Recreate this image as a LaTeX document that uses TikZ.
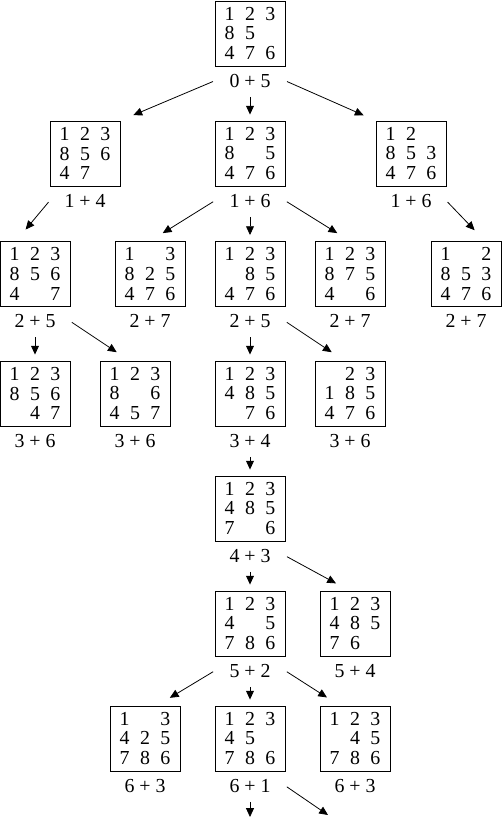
\documentclass[tikz,border=0pt]{standalone}
\usepackage{fontspec}
\setmainfont{Liberation Serif}
\usetikzlibrary{positioning,arrows.meta}
\newcommand{\tiles}[9]{%
	\makebox[0.5em]{#1}\hspace{5.9pt}\makebox[0.5em]{#2}\hspace{5.9pt}\makebox[0.5em]{#3}\\
	\makebox[0.5em]{#4}\hspace{5.9pt}\makebox[0.5em]{#5}\hspace{5.9pt}\makebox[0.5em]{#6}\\
	\makebox[0.5em]{#7}\hspace{5.9pt}\makebox[0.5em]{#8}\hspace{5.9pt}\makebox[0.5em]{#9}}
\begin{document}
\begin{tikzpicture}[shorten <=1pt,shorten >=0.3cm,-{Triangle[length=5pt,width=4.5pt]},draw=black!100,line width=0.45pt]
	\def \rowzero{15.67cm}
	\def \rowone{13.27cm}
	\def \rowtwo{10.86cm}
	\def \rowthree{8.47cm}
	\def \rowfour{6.17cm}
	\def \rowfive{3.87cm}
	\def \rowsix{1.57cm}
	\tikzstyle{s-node}=[rectangle,draw=black!100,line width=0.5pt,minimum width=1.4cm,minimum height=1.3cm,inner sep=0pt,align=center,font=\fontsize{11.3pt}{11.2pt}\selectfont]
	\tikzstyle{cost}=[minimum width=1.4cm,minimum height=0.56cm,inner sep=0pt,font=\fontsize{11.3pt}{13pt}\selectfont]
	\tikzstyle{down}=[shorten >=0.12cm]
	\useasboundingbox (0cm,0cm) rectangle (10.04cm,16.34cm);
	
	% root
	\node[s-node] 	(a0)	at (5cm,\rowzero)		{\tiles{1}{2}{3}{8}{5}{}{4}{7}{6}};
	\node[cost] 	(a0l)	[below=0pt of a0]		{0 + 5};
	
	% depth 1
	\node[s-node] 	(b0)	at (1.7cm,\rowone)		{\tiles{1}{2}{3}{8}{5}{6}{4}{7}{}};
	\node[s-node] 	(b1)	at (5cm,\rowone)		{\tiles{1}{2}{3}{8}{}{5}{4}{7}{6}};
	\node[s-node] 	(b2)	at (8.22cm,\rowone)		{\tiles{1}{2}{}{8}{5}{3}{4}{7}{6}};
	\node[cost] 	(b0l)	[below=0pt of b0]		{1 + 4};
	\node[cost] 	(b1l)	[below=0pt of b1]		{1 + 6};
	\node[cost] 	(b2l)	[below=0pt of b2]		{1 + 6};
	
	% depth 2
	\node[s-node] 	(c0)	at (0.7cm,\rowtwo)		{\tiles{1}{2}{3}{8}{5}{6}{4}{}{7}};
	\node[s-node] 	(c1)	at (3cm,\rowtwo)		{\tiles{1}{}{3}{8}{2}{5}{4}{7}{6}};
	\node[s-node] 	(c2)	at (5cm,\rowtwo)		{\tiles{1}{2}{3}{}{8}{5}{4}{7}{6}};
	\node[s-node] 	(c3)	at (7cm,\rowtwo)		{\tiles{1}{2}{3}{8}{7}{5}{4}{}{6}};
	\node[s-node] 	(c4)	at (9.32cm,\rowtwo)		{\tiles{1}{}{2}{8}{5}{3}{4}{7}{6}};
	\node[cost] 	(c0l)	[below=0pt of c0]		{2 + 5};
	\node[cost] 	(c1l)	[below=0pt of c1]		{2 + 7};
	\node[cost] 	(c2l)	[below=0pt of c2]		{2 + 5};
	\node[cost] 	(c3l)	[below=0pt of c3]		{2 + 7};
	\node[cost] 	(c4l)	[below=0pt of c4]		{2 + 7};
	
	% depth 3
	\node[s-node] 	(d0)	at (0.7cm,\rowthree)	{\tiles{1}{2}{3}{8}{5}{6}{}{4}{7}};
	\node[s-node] 	(d1)	at (2.7cm,\rowthree)	{\tiles{1}{2}{3}{8}{}{6}{4}{5}{7}};
	\node[s-node] 	(d2)	at (5cm,\rowthree)		{\tiles{1}{2}{3}{4}{8}{5}{}{7}{6}};
	\node[s-node] 	(d3)	at (7cm,\rowthree)		{\tiles{}{2}{3}{1}{8}{5}{4}{7}{6}};
	\node[cost] 	(d0l)	[below=0pt of d0]		{3 + 6};
	\node[cost] 	(d1l)	[below=0pt of d1]		{3 + 6};
	\node[cost] 	(d2l)	[below=0pt of d2]		{3 + 4};
	\node[cost] 	(d3l)	[below=0pt of d3]		{3 + 6};
	
	% depth 4
	\node[s-node] 	(e0)	at (5cm,\rowfour)		{\tiles{1}{2}{3}{4}{8}{5}{7}{}{6}};
	\node[cost] 	(e0l)	[below=0pt of e0]		{4 + 3};
	
	% depth 5
	\node[s-node] 	(f0)	at (5cm,\rowfive)		{\tiles{1}{2}{3}{4}{}{5}{7}{8}{6}};
	\node[s-node] 	(f1)	at (7.1cm,\rowfive)		{\tiles{1}{2}{3}{4}{8}{5}{7}{6}{}};
	\node[cost] 	(f0l)	[below=0pt of f0]		{5 + 2};
	\node[cost] 	(f1l)	[below=0pt of f1]		{5 + 4};
	
	% depth 6
	\node[s-node] 	(g0)	at (2.9cm,\rowsix)		{\tiles{1}{}{3}{4}{2}{5}{7}{8}{6}};
	\node[s-node] 	(g1)	at (5cm,\rowsix)		{\tiles{1}{2}{3}{4}{5}{}{7}{8}{6}};
	\node[s-node] 	(g2)	at (7.1cm,\rowsix)		{\tiles{1}{2}{3}{}{4}{5}{7}{8}{6}};
	\node[cost] 	(g0l)	[below=0pt of g0]		{6 + 3};
	\node[cost] 	(g1l)	[below=0pt of g1]		{6 + 1};
	\node[cost] 	(g2l)	[below=0pt of g2]		{6 + 3};
	\coordinate		(g1out0)	at (5cm,0cm);
	\coordinate		(g1out1)	at (6.56cm,0.04cm);
	
	\path
		(a0l.west)	edge[shorten >=0.28cm]	(b0.north east)
		(a0l.south)	edge[down]	(b1.north)
		(a0l.east)	edge[shorten >=0.26cm]	(b2.north west)
		%
		(b0l.west)	edge	(c0.120)
		(b1l.west)	edge	(c1.north)
		(b1l.south)	edge[down]	(c2.north)
		(b1l.east)	edge	(c3.north)
		(b2l.east)	edge	(c4.60)
		%
		(c0l.south)	edge[down]	(d0.north)
		(c0l.east)	edge	(d1.100)
		(c2l.south)	edge[down]	(d2.north)
		(c2l.east)	edge	(d3.100)
		%
		(d2l.south)	edge[down]	(e0.north)
		%
		(e0l.south)	edge[down]	(f0.north)
		(e0l.east)	edge	(f1.100)
		%
		(f0l.west)	edge	(g0.70)
		(f0l.south)	edge[down]	(g1.north)
		(f0l.east)	edge	(g2.115)
		%
		(g1l.south)	edge[shorten >=0pt]	(g1out0)
		(g1l.east)	edge[shorten >=0pt]	(g1out1);
\end{tikzpicture}
\end{document}
